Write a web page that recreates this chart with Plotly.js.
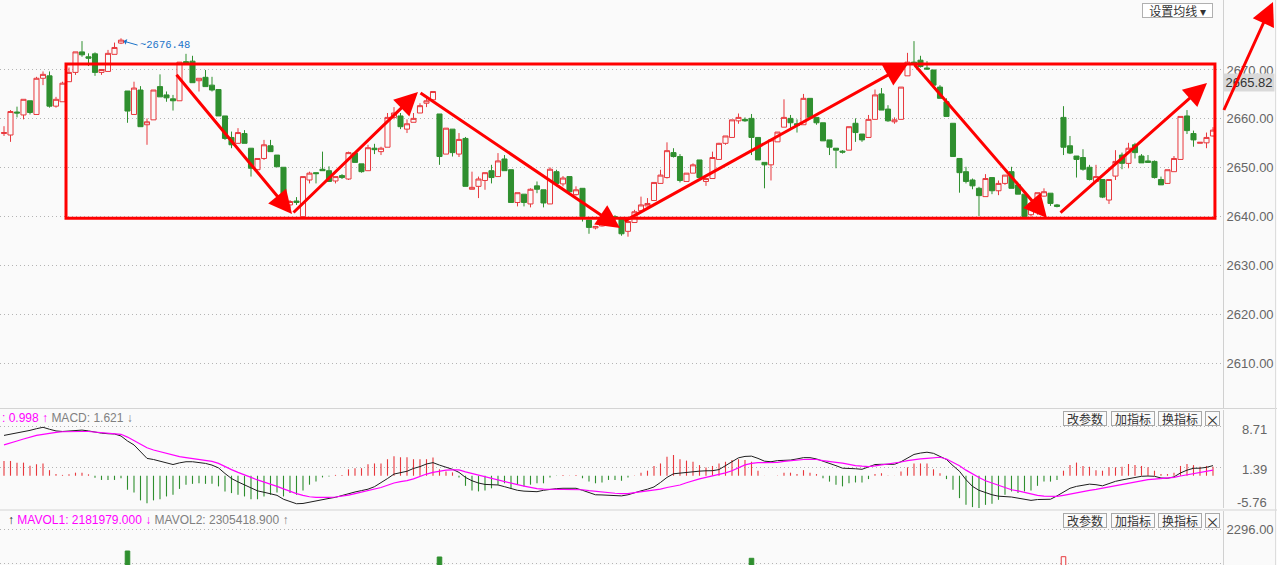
<!DOCTYPE html>
<html><head><meta charset="utf-8">
<script src="https://cdn.plot.ly/plotly-3.0.1.min.js"></script>
<style>html,body{margin:0;padding:0;background:#fafafa;}#chart{width:1277px;height:565px;}</style>
</head><body><div id="chart"></div>
<script>
// ---------- DATA ----------
const openP = [2657.0,2656.7,2661.4,2660.8,2663.7,2660.9,2668.3,2668.8,2662.6,2663.5,
2667.6,2669.5,2673.7,2672.7,2673.3,2669.5,2669.7,2673.2,2675.5,2665.7,
2660.9,2665.9,2658.8,2659.8,2666.6,2664.9,2664.1,2663.7,2671.7,2671.8,
2667.8,2668.5,2666.9,2666.0,2660.6,2656.2,2655.0,2657.0,2654.0,2649.6,
2651.9,2654.5,2652.6,2650.1,2642.4,2643.2,2640.0,2647.5,2649.0,
2649.7,2649.4,2647.3,2648.4,2647.7,2653.0,2650.8,2649.4,2654.0,2653.3,
2654.2,2660.3,2660.6,2657.9,2659.3,2661.2,2663.2,2663.9,2661.0,2652.8,
2657.9,2652.8,2656.0,2645.6,2646.2,2647.4,2649.4,2648.2,2651.8,2649.6,
2642.9,2644.6,2642.6,2646.3,2645.5,2642.6,2649.2,2646.7,2648.2,2644.5,
2645.8,2639.3,2637.7,2638.1,2639.4,2640.0,2639.5,2637.0,2638.8,
2641.2,2642.2,2643.3,2646.8,2648.0,2653.1,2652.3,2647.2,2648.9,2651.6,
2647.2,2647.8,2651.7,2655.0,2656.2,2659.6,2659.9,2660.1,2656.2,2651.1,
2650.6,2655.3,2658.3,2660.1,2659.0,2658.8,2664.2,2660.3,2659.2,2655.7,
2654.0,2653.4,2653.6,2659.1,2656.9,2656.2,2659.9,2665.1,2662.0,2659.4,
2659.9,2668.8,2671.6,2672.0,2670.4,2670.0,2666.5,2663.5,2659.1,2651.9,
2649.2,2647.5,2645.8,2644.1,2648.0,2645.3,2646.8,2649.2,2646.5,2644.6,
2640.4,2642.4,2644.2,2644.8,2642.4,2660.3,2654.5,2652.4,2652.1,2650.1,
2647.2,2647.6,2643.4,2648.3,2652.6,2650.9,2654.7,2652.4,2651.4,2651.3,
2647.6,2646.8,2649.2,2651.7,2660.6,2657.0,2655.0,2655.1,2656.5];

const highP = [2658.5,2661.8,2662.5,2664.0,2663.7,2668.6,2669.7,2669.7,2664.5,2667.6,
2670.5,2673.7,2675.9,2673.4,2673.6,2670.1,2674.1,2675.6,2676.48,2665.7,
2667.6,2666.7,2660.1,2665.9,2669.1,2665.6,2664.9,2671.6,2673.3,2672.9,
2668.3,2670.0,2668.6,2666.0,2660.6,2657.4,2658.1,2657.7,2654.0,2651.9,
2655.7,2655.7,2652.6,2650.1,2643.4,2644.0,2648.2,2649.2,2649.0,
2653.3,2650.3,2648.2,2648.7,2653.3,2653.0,2650.8,2654.7,2654.9,2654.3,
2661.2,2662.4,2661.2,2659.9,2661.2,2663.2,2664.6,2665.6,2661.0,2658.1,
2657.9,2657.1,2656.3,2649.2,2648.2,2649.0,2650.6,2653.0,2652.6,2649.6,
2644.9,2644.6,2645.8,2647.2,2645.5,2650.1,2649.6,2648.3,2648.2,2646.2,
2645.8,2639.3,2638.1,2639.3,2640.7,2640.3,2639.5,2639.3,2641.4,
2644.1,2643.8,2647.0,2649.6,2655.2,2654.0,2652.8,2648.9,2650.9,2651.6,
2647.8,2653.3,2655.1,2656.5,2659.8,2661.1,2660.3,2661.0,2656.2,2651.1,
2655.7,2657.3,2664.0,2660.8,2659.9,2665.1,2664.2,2660.3,2659.2,2655.7,
2654.0,2653.6,2658.4,2660.1,2656.9,2660.8,2666.0,2666.3,2662.8,2660.3,
2666.5,2673.5,2675.9,2672.9,2671.8,2670.0,2666.9,2664.2,2659.1,2651.9,
2650.2,2647.8,2646.1,2648.7,2648.0,2647.4,2648.5,2650.2,2646.5,2644.6,
2642.7,2644.9,2645.8,2644.8,2642.6,2662.6,2656.5,2652.4,2653.8,2650.6,
2650.6,2647.6,2647.6,2653.6,2653.1,2655.1,2655.1,2652.8,2652.6,2651.5,
2648.2,2649.6,2652.4,2660.5,2661.8,2657.6,2655.2,2657.2,2658.3];

const lowP = [2656.5,2655.3,2660.3,2659.9,2660.9,2660.9,2666.9,2662.3,2662.3,2663.5,
2667.6,2669.0,2672.7,2670.8,2668.8,2669.0,2669.7,2673.2,2675.3,2659.2,
2660.8,2658.4,2654.7,2659.8,2664.5,2663.5,2661.7,2663.7,2671.4,2667.4,
2665.6,2666.6,2665.6,2660.6,2655.7,2654.0,2655.0,2655.0,2648.2,2649.6,
2651.6,2653.3,2650.2,2642.7,2641.7,2642.4,2640.0,2646.8,2646.8,
2649.4,2647.2,2646.8,2647.7,2647.5,2651.1,2649.0,2649.4,2652.8,2652.6,
2654.2,2659.9,2657.9,2657.1,2659.3,2661.2,2662.4,2663.9,2650.6,2652.8,
2652.3,2652.2,2646.2,2645.6,2643.8,2645.5,2646.8,2648.2,2649.4,2642.8,
2642.1,2642.1,2641.9,2644.8,2641.9,2642.6,2646.2,2646.2,2644.5,2644.3,
2639.0,2636.5,2637.4,2638.0,2639.0,2638.5,2636.1,2635.9,2638.7,
2641.0,2642.1,2643.3,2646.8,2647.8,2652.1,2647.0,2647.2,2648.9,2647.8,
2646.3,2647.8,2651.7,2654.7,2656.2,2659.0,2659.4,2652.6,2651.6,2645.8,
2647.4,2655.3,2658.3,2657.9,2657.2,2658.8,2660.3,2658.8,2655.5,2652.6,
2649.9,2652.9,2653.6,2655.3,2655.3,2656.2,2659.9,2661.8,2659.4,2659.0,
2659.9,2668.8,2671.2,2670.5,2670.0,2666.9,2664.2,2660.5,2652.3,2644.9,
2646.8,2645.6,2640.1,2644.1,2644.6,2644.4,2646.5,2645.8,2644.6,2640.0,
2640.0,2640.4,2644.1,2642.2,2641.9,2652.6,2652.8,2648.0,2649.4,2647.4,
2647.2,2643.8,2642.6,2647.5,2649.7,2649.9,2651.9,2651.0,2651.0,2647.8,
2646.5,2646.7,2649.2,2651.7,2656.9,2654.3,2655.0,2654.0,2656.4];

const closeP = [2657.2,2661.5,2661.2,2664.0,2661.3,2668.3,2669.1,2662.6,2664.0,2667.3,
2669.5,2673.7,2673.1,2672.4,2669.5,2670.1,2673.4,2674.6,2676.1,2661.6,
2666.3,2658.4,2659.4,2665.9,2664.5,2664.3,2663.7,2671.6,2671.4,2667.4,
2668.3,2666.6,2665.9,2660.6,2656.0,2654.7,2657.2,2655.0,2649.9,2651.9,
2654.7,2653.3,2650.2,2643.1,2643.1,2642.9,2648.2,2648.9,2648.8,
2649.4,2647.2,2648.2,2648.0,2653.1,2651.1,2649.2,2654.1,2653.7,2654.0,
2660.3,2661.2,2658.4,2659.0,2660.1,2662.7,2663.7,2665.6,2652.3,2658.1,
2653.1,2655.8,2646.2,2646.0,2647.7,2649.0,2648.0,2651.4,2649.4,2642.9,
2644.9,2642.9,2645.6,2645.6,2642.8,2649.7,2646.8,2647.9,2645.1,2645.5,
2640.0,2637.8,2638.0,2639.0,2640.0,2639.7,2636.5,2639.0,2641.0,
2642.4,2642.7,2647.0,2648.5,2653.5,2652.3,2647.4,2648.9,2650.6,2648.0,
2647.8,2652.1,2655.0,2656.5,2659.8,2660.3,2659.6,2656.2,2651.6,2650.6,
2655.7,2657.3,2660.3,2659.2,2658.7,2664.2,2660.3,2659.2,2655.5,2654.2,
2653.6,2653.2,2658.4,2657.2,2655.7,2659.9,2664.9,2661.8,2659.6,2659.8,
2666.5,2671.6,2671.2,2670.7,2670.2,2666.9,2664.2,2660.5,2652.3,2649.0,
2647.2,2646.3,2644.3,2647.8,2645.3,2646.8,2648.5,2645.8,2644.6,2640.0,
2642.7,2644.9,2645.1,2642.7,2642.1,2654.2,2653.0,2651.7,2649.7,2647.6,
2648.2,2644.0,2647.6,2651.3,2650.9,2654.0,2653.1,2651.0,2651.1,2648.0,
2646.5,2649.6,2651.9,2660.5,2657.6,2655.7,2655.2,2656.2,2657.7];

const difV = [7.2,7.4,7.6,7.85,8.1,8.4,8.65,8.3,8.0,7.9,
8.0,8.1,8.15,8.0,7.75,7.6,7.5,7.45,7.1,6.2,
5.5,4.2,3.1,2.9,2.6,2.3,2.0,2.3,2.5,2.5,
2.4,2.2,1.9,1.4,0.4,-0.5,-1.1,-1.6,-2.2,-2.7,
-2.95,-3.2,-3.5,-4.2,-4.6,-5.0,-4.95,-4.7,-4.45,-4.25,
-4.05,-3.85,-3.5,-3.15,-2.9,-2.65,-2.4,-1.95,-1.3,-0.5,
0.3,0.55,0.8,1.3,1.63,2.1,2.34,1.9,1.5,1.15,
0.6,-0.3,-0.9,-1.3,-1.55,-1.65,-1.65,-1.95,-2.3,-2.6,
-2.75,-2.85,-2.85,-2.6,-2.4,-2.3,-2.24,-2.24,-2.24,-2.6,
-3.0,-3.4,-3.43,-3.45,-3.5,-3.6,-3.4,-3.0,-2.7,-2.4,
-2.0,-1.2,-0.3,0.35,0.5,0.65,0.75,0.82,0.88,0.9,
1.1,1.8,2.5,3.2,3.45,3.5,3.1,2.6,2.5,2.7,
2.75,2.8,3.0,3.23,3.23,3.0,2.6,2.25,1.8,1.35,
1.33,1.25,1.15,1.6,2.0,2.04,2.04,2.04,2.5,3.2,
3.8,4.05,4.2,4.0,3.5,2.9,1.8,0.8,-0.7,-1.9,
-2.6,-3.0,-3.4,-3.65,-3.7,-3.8,-4.0,-4.2,-4.4,-4.25,
-4.2,-4.2,-3.6,-2.9,-2.24,-1.9,-1.65,-1.5,-1.6,-1.8,
-1.4,-1.0,-0.75,-0.5,-0.25,-0.1,-0.05,-0.1,-0.4,-0.45,
-0.2,0.5,1.0,1.33,1.35,1.5,1.81];

const deaV = [5.5,5.9,6.2,6.55,6.9,7.2,7.4,7.6,7.75,7.85,
7.9,7.9,7.9,7.9,7.8,7.65,7.55,7.5,7.4,6.9,
6.3,5.7,5.0,4.6,4.3,3.9,3.6,3.4,3.25,3.1,
2.95,2.8,2.55,2.2,1.6,1.1,0.6,0.2,-0.3,-0.75,
-1.1,-1.45,-1.9,-2.35,-2.8,-3.2,-3.5,-3.75,-3.85,-3.9,
-3.88,-3.8,-3.65,-3.45,-3.2,-2.95,-2.7,-2.4,-2.1,-1.7,
-1.3,-1.05,-0.87,-0.55,-0.1,0.3,0.6,0.8,1.0,1.03,
1.03,0.7,0.4,0.14,-0.2,-0.45,-0.75,-1.0,-1.3,-1.6,
-1.85,-2.1,-2.3,-2.4,-2.4,-2.4,-2.4,-2.4,-2.4,-2.5,
-2.65,-2.8,-2.95,-3.05,-3.13,-3.2,-3.2,-3.0,-2.85,-2.7,
-2.6,-2.4,-2.1,-1.85,-1.65,-1.25,-0.87,-0.55,-0.28,-0.05,
0.14,0.5,0.9,1.4,1.93,2.2,2.34,2.34,2.34,2.4,
2.55,2.7,2.8,2.9,2.94,2.9,2.7,2.5,2.4,2.25,
2.0,1.8,1.7,1.63,1.75,1.93,2.05,2.2,2.45,2.7,
2.9,3.0,3.1,3.2,3.3,3.0,2.4,1.8,1.0,0.3,
-0.3,-0.9,-1.3,-1.8,-2.1,-2.5,-2.7,-3.0,-3.2,-3.5,
-3.65,-3.7,-3.7,-3.5,-3.25,-3.0,-2.8,-2.6,-2.45,-2.24,
-2.0,-1.8,-1.55,-1.3,-1.1,-0.9,-0.7,-0.6,-0.5,-0.45,
-0.3,-0.05,0.14,0.35,0.56,0.8,0.998];

const macdV = [2.64,2.64,2.34,2.34,1.8,2.05,2.2,1.0,0.3,0.15,
0.25,0.55,0.55,0.25,-0.35,-0.75,-0.75,-0.75,-0.45,-2.5,
-3.0,-4.4,-4.9,-4.4,-4.2,-3.7,-3.4,-2.35,-1.6,-1.45,
-1.35,-1.45,-1.45,-1.9,-2.8,-3.1,-3.4,-3.7,-4.2,-4.2,
-3.7,-3.4,-3.0,-3.7,-3.1,-3.4,-2.65,-1.6,-1.05,-0.3,
-0.15,0.15,0.15,1.15,1.35,1.35,2.05,2.2,2.2,2.95,
3.5,3.3,3.3,2.95,2.95,2.95,3.25,1.15,0.75,0.6,
-0.3,-1.8,-2.65,-2.8,-2.65,-2.25,-1.6,-1.35,-2.25,-1.6,
-1.9,-1.6,-1.35,-1.35,-0.3,-0.05,0.15,0.05,0.15,-0.45,
-1.05,-1.35,-1.2,-0.75,-0.75,-0.9,-0.3,0.05,0.55,0.9,
1.75,2.2,3.4,3.7,2.95,2.7,2.5,1.9,1.45,1.75,
2.2,2.5,2.8,2.95,2.8,2.5,0.9,0.02,-0.02,0.05,
0.55,0.55,0.3,1.0,0.55,0.3,-0.45,-1.05,-1.6,-1.9,
-1.35,-1.2,-1.2,-0.6,0.3,0.45,0.05,0.02,0.75,1.5,
2.2,2.2,2.2,1.15,0.45,-0.6,-2.5,-4.0,-5.2,-5.6,
-6.0,-5.2,-5.0,-4.3,-3.4,-2.8,-3.1,-2.8,-2.65,-1.8,
-1.05,-1.05,-0.75,0.9,1.9,2.35,1.75,1.6,1.0,0.9,
1.5,1.5,1.6,2.1,1.9,1.75,1.5,0.9,0.3,0.3,
0.55,1.75,2.1,1.9,1.6,1.75,1.62];

// only the volume bars that rise into the visible strip
const volIdx = [19, 67, 115, 163];
const volVal = [1563, 1361, 1317, 1371];

const priceTicks = [2610, 2620, 2630, 2640, 2650, 2660, 2670];
const priceTickText = ['2610.00','2620.00','2630.00','2640.00','2650.00','2660.00','2670.00'];
const macdTicks = [8.71, 1.39, -5.76];
const macdTickText = ['8.71', '1.39', '-5.76'];
const volTicks = [1148, 2296];
const volTickText = ['1148.00', '2296.00'];

const highLabel = '2676.48';
const lastTag = '2665.82';
const macdHeader = {dea: ': 0.998 ↑', macd: 'MACD: 1.621 ↓'};
const volHeader = {m1: 'MAVOL1: 2181979.000 ↓', m2: 'MAVOL2: 2305418.900 ↑'};
const buttons = ['改参数', '加指标', '换指标', '×'];
const maButton = '设置均线 ▾';

// ---------- STYLE / GEOMETRY ----------
const W = 1277, H = 565;
const RED = '#e8383d', GREEN = '#2f8f2f', BG = '#fafafa', MAG = '#ff00ff';
const FONT = 'Liberation Sans, Arial, sans-serif';
const CJK = 'Noto Sans CJK SC, sans-serif';
const px = v => v / W;            // pixel -> paper x
const py = v => 1 - v / H;        // pixel -> paper y

const xs = closeP.map((_, i) => i);

const traces = [
  {
    type: 'candlestick', x: xs, open: openP, high: highP, low: lowP, close: closeP,
    xaxis: 'x', yaxis: 'y', whiskerwidth: 0, hoverinfo: 'skip',
    increasing: {line: {color: RED, width: 1}, fillcolor: BG},
    decreasing: {line: {color: GREEN, width: 1}, fillcolor: GREEN}
  },
  {
    type: 'bar', x: xs, y: macdV, xaxis: 'x', yaxis: 'y2', width: 0.17,
    marker: {color: macdV.map(v => v >= 0 ? RED : GREEN), line: {width: 0}}, hoverinfo: 'skip'
  },
  {
    type: 'scatter', mode: 'lines', x: xs, y: difV, xaxis: 'x', yaxis: 'y2',
    line: {color: '#1e1e1e', width: 1}, hoverinfo: 'skip'
  },
  {
    type: 'scatter', mode: 'lines', x: xs, y: deaV, xaxis: 'x', yaxis: 'y2',
    line: {color: MAG, width: 1.2}, hoverinfo: 'skip'
  },
  {
    type: 'bar', x: volIdx, y: volVal, xaxis: 'x', yaxis: 'y3', width: 0.7,
    marker: {
      color: volIdx.map(i => closeP[i] >= closeP[i - 1] ? BG : GREEN),
      line: {color: volIdx.map(i => closeP[i] >= closeP[i - 1] ? RED : GREEN), width: 1}
    },
    hoverinfo: 'skip'
  }
];

const grid = {showgrid: true, gridcolor: '#b4b4b4', griddash: '1px,3px', gridwidth: 1,
  zeroline: false, showline: true, linecolor: '#d0d0d0', linewidth: 1, side: 'right',
  ticks: '', anchor: 'x', fixedrange: true, tickfont: {family: FONT, size: 13, color: '#666'}};

const arrowDefs = [
  // [headX, headY, tailX, tailY] in data coordinates
  [44.31, 2640.55, 26.31, 2669.39],
  [63.69, 2665.50, 44.31, 2640.55],
  [94.77, 2637.69, 63.85, 2665.50],
  [139.08, 2671.23, 95.23, 2638.92],
  [160.46, 2639.73, 139.85, 2671.43],
  [185.08, 2667.34, 162.31, 2640.55]
];

const annotations = [];

// last price tag on the right axis
annotations.push({xref: 'paper', yref: 'paper', x: px(1223), y: py(82), xanchor: 'left', yanchor: 'middle',
  text: lastTag, showarrow: false, bgcolor: '#d9d9d9', borderpad: 1, width: 48,
  font: {family: FONT, size: 13, color: '#333'}});

arrowDefs.forEach(a => annotations.push({
  xref: 'x', yref: 'y', axref: 'x', ayref: 'y', x: a[0], y: a[1], ax: a[2], ay: a[3],
  text: ' ', font: {size: 1}, showarrow: true, arrowhead: 2, arrowsize: 1.55, arrowwidth: 3,
  arrowcolor: '#ff0000', standoff: 0, startstandoff: 0
}));
// the arrow leaving the box on the right edge
annotations.push({xref: 'paper', yref: 'paper', x: px(1273), y: py(2), ax: -50, ay: 110,
  text: ' ', font: {size: 1}, showarrow: true, arrowhead: 2, arrowsize: 1.55, arrowwidth: 3,
  arrowcolor: '#ff0000', standoff: 0});

// highest price marker
annotations.push({xref: 'x', yref: 'y', x: 18.4, y: 2675.9, ax: 14, ay: 4, xanchor: 'left', yanchor: 'middle',
  text: '~' + highLabel, showarrow: true, arrowhead: 1, arrowsize: 1, arrowwidth: 1, arrowcolor: '#1a73c9',
  font: {family: 'Liberation Mono, DejaVu Sans Mono, monospace', size: 10.5, color: '#1a73c9'}});

// panel headers
annotations.push({xref: 'paper', yref: 'paper', x: 0, y: py(417.5), xanchor: 'left', yanchor: 'middle', showarrow: false,
  text: '<span style="color:' + MAG + '">' + macdHeader.dea + '</span> <span style="color:#808080">' + macdHeader.macd + '</span>',
  font: {family: FONT, size: 12}});
annotations.push({xref: 'paper', yref: 'paper', x: px(6), y: py(520), xanchor: 'left', yanchor: 'middle', showarrow: false,
  text: '<span style="color:#222">↑</span> <span style="color:' + MAG + '">' + volHeader.m1 + '</span> <span style="color:#808080">' + volHeader.m2 + '</span>',
  font: {family: FONT, size: 12}});

// buttons
const btnX = [1085, 1133, 1180, 1212.5], btnW = [42, 42, 42, 13];
[418.5, 520].forEach(yy => {
  buttons.forEach((b, k) => annotations.push({xref: 'paper', yref: 'paper', x: px(btnX[k]), y: py(yy),
    xanchor: 'center', yanchor: 'middle', showarrow: false, text: b, width: btnW[k], height: 13,
    bgcolor: BG, bordercolor: '#a8a8a8', borderwidth: 1, borderpad: 0,
    font: {family: CJK, size: k === 3 ? 14 : 12, color: '#333'}}));
});
annotations.push({xref: 'paper', yref: 'paper', x: px(1177), y: py(10.5), xanchor: 'center', yanchor: 'middle',
  showarrow: false, text: maButton, width: 69, height: 13, bgcolor: '#ffffff', bordercolor: '#b0b0b0',
  borderwidth: 1, borderpad: 0, font: {family: CJK, size: 12, color: '#333'}});

// MACD axis labels (right aligned)
const macdLabelY = [429, 469, 502];
macdTickText.forEach((t, k) => annotations.push({xref: 'paper', yref: 'paper', x: px(1269), y: py(macdLabelY[k]),
  xanchor: 'right', yanchor: 'middle', showarrow: false, text: t, font: {family: FONT, size: 13, color: '#666'}}));

const shapes = [
  {type: 'rect', xref: 'x', yref: 'y', x0: 9.54, x1: 186.3, y0: 2639.67, y1: 2671.2,
    line: {color: '#ff0000', width: 3}, fillcolor: 'rgba(0,0,0,0)'},
  {type: 'line', xref: 'paper', yref: 'paper', x0: 0, x1: 1, y0: py(408.5), y1: py(408.5), line: {color: '#d4d4d4', width: 1}},
  {type: 'line', xref: 'paper', yref: 'paper', x0: 0, x1: 1, y0: py(510), y1: py(510), line: {color: '#d4d4d4', width: 1}},
  {type: 'line', xref: 'paper', yref: 'paper', x0: px(1275.5), x1: px(1275.5), y0: 0, y1: 1, line: {color: '#dddddd', width: 1}}
];

const layout = {
  width: W, height: H, margin: {l: 0, r: 0, t: 0, b: 0},
  paper_bgcolor: BG, plot_bgcolor: BG, showlegend: false,
  boxgap: 0.22, boxgroupgap: 0, barmode: 'overlay', hovermode: false,
  font: {family: FONT},
  xaxis: {domain: [0, 1223 / W], range: [-0.615, 187.54], showgrid: false, zeroline: false,
    showticklabels: false, ticks: '', showline: false, fixedrange: true, anchor: 'y3',
    rangeslider: {visible: false}},
  yaxis: Object.assign({}, grid, {domain: [py(408), 1], range: [2600.87, 2684.31],
    tickvals: priceTicks, ticktext: priceTickText}),
  yaxis2: Object.assign({}, grid, {domain: [py(508), py(410)], range: [-5.76, 11.737],
    tickvals: macdTicks, showticklabels: false}),
  yaxis3: Object.assign({}, grid, {domain: [0, py(511)], range: [1090.6, 2913.8],
    tickvals: volTicks, ticktext: volTickText}),
  shapes: shapes,
  annotations: annotations
};

Plotly.newPlot('chart', traces, layout, {staticPlot: true, displayModeBar: false});
</script>
</body></html>
